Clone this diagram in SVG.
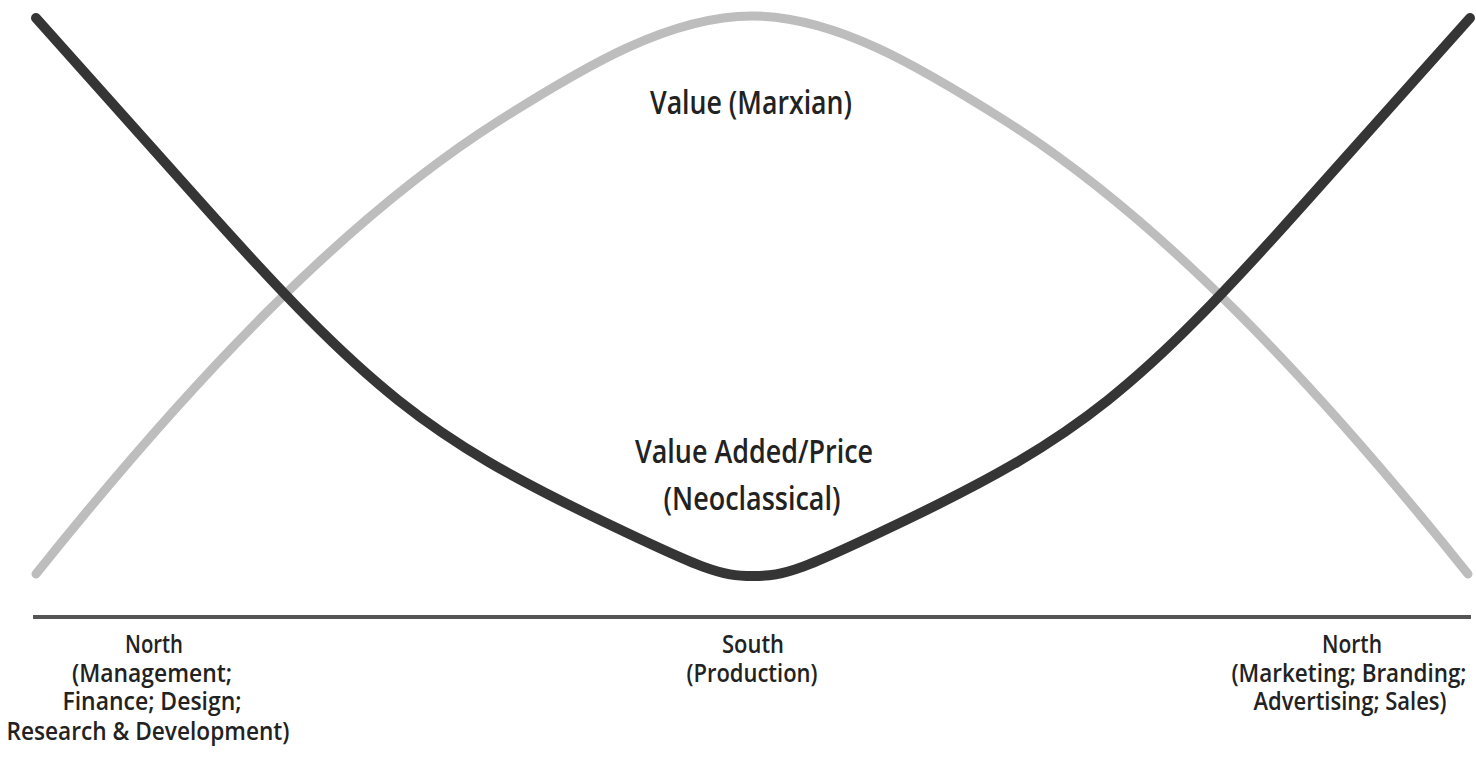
<svg xmlns="http://www.w3.org/2000/svg" width="1476" height="775" viewBox="0 0 1476 775">
  <style>
    .lbl { font-family: "Open Sans", "Liberation Sans", sans-serif; font-weight: 600; fill: #222222; text-anchor: middle; }
    .big { font-size: 33px; }
    .small { font-size: 26px; }
    .curve { fill: none; stroke-linecap: round; stroke-linejoin: round; }
  </style>
  <rect x="0" y="0" width="1476" height="775" fill="#ffffff"/>
  <g id="curves">
    <path id="value-marxian-curve" class="curve" stroke="#bdbdbd" stroke-width="9"
      d="M36,574 C191,380 345,218 500,120 C584,67 669,16 752,16 C835,16 920,67 1004,120 C1159,218 1313,380 1468,574"/>
    <path id="value-added-curve" class="curve" stroke="#353535" stroke-width="10"
      d="M36,18 L200,201.7 C367.8,389.6 427.8,437.4 600,520 C705,570.4 720.3,576 753,576 C785.7,576 801,570.4 906,520 C1078.2,437.4 1138.2,389.6 1306,201.7 L1470,18"/>
  </g>
  <g id="axis">
    <line x1="33" y1="617" x2="1471" y2="617" stroke="#555555" stroke-width="4"/>
  </g>
  <g id="label-value-marxian">
    <text class="lbl big" x="751" y="114" textLength="202" lengthAdjust="spacingAndGlyphs">Value (Marxian)</text>
  </g>
  <g id="label-value-added">
    <text class="lbl big" x="754" y="463" textLength="238" lengthAdjust="spacingAndGlyphs">Value Added/Price</text>
    <text class="lbl big" x="752" y="510" textLength="177" lengthAdjust="spacingAndGlyphs">(Neoclassical)</text>
  </g>
  <g id="label-north-left">
    <text class="lbl small" x="154" y="653" textLength="58" lengthAdjust="spacingAndGlyphs">North</text>
    <text class="lbl small" x="152" y="682" textLength="160" lengthAdjust="spacingAndGlyphs">(Management;</text>
    <text class="lbl small" x="152" y="710" textLength="179" lengthAdjust="spacingAndGlyphs">Finance; Design;</text>
    <text class="lbl small" x="148" y="740" textLength="283" lengthAdjust="spacingAndGlyphs">Research &amp; Development)</text>
  </g>
  <g id="label-south">
    <text class="lbl small" x="753" y="653" textLength="62" lengthAdjust="spacingAndGlyphs">South</text>
    <text class="lbl small" x="752" y="682" textLength="131" lengthAdjust="spacingAndGlyphs">(Production)</text>
  </g>
  <g id="label-north-right">
    <text class="lbl small" x="1352" y="653" textLength="60" lengthAdjust="spacingAndGlyphs">North</text>
    <text class="lbl small" x="1349" y="682" textLength="235" lengthAdjust="spacingAndGlyphs">(Marketing; Branding;</text>
    <text class="lbl small" x="1350" y="710" textLength="193" lengthAdjust="spacingAndGlyphs">Advertising; Sales)</text>
  </g>
</svg>
